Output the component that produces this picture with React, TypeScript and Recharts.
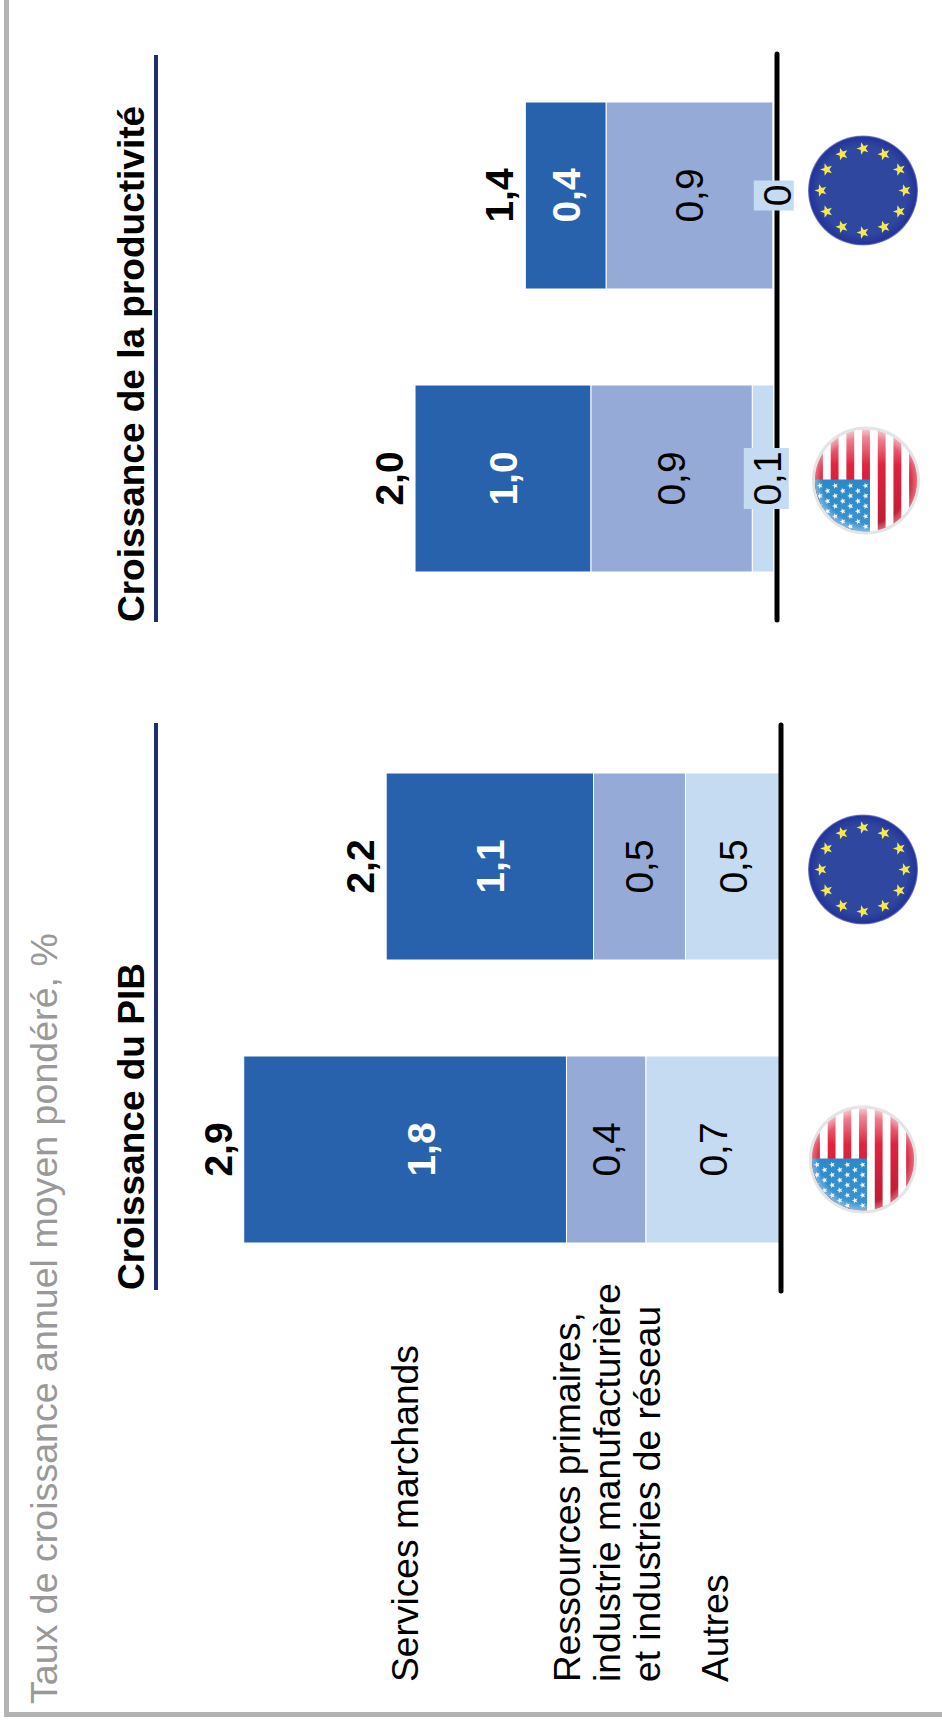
import React from "react";
import { BarChart, Bar, XAxis, YAxis, LabelList } from "recharts";

const FONT = '"Liberation Sans", Arial, sans-serif';

const regions = ["États-Unis", "UE"];
const gdpServices = [1.79, 1.15];
const gdpResources = [0.44, 0.51];
const gdpOther = [0.75, 0.53];
const gdpServiceLabels = ["1,8", "1,1"];
const gdpResourceLabels = ["0,4", "0,5"];
const gdpOtherLabels = ["0,7", "0,5"];
const gdpTotals = ["2,9", "2,2"];

const prodServices = [0.98, 0.45];
const prodResources = [0.9, 0.93];
const prodOther = [0.12, 0.005];
const prodServiceLabels = ["1,0", "0,4"];
const prodResourceLabels = ["0,9", "0,9"];
const prodOtherLabels = ["0,1", "0"];
const prodTotals = ["2,0", "1,4"];

const legendServices = ["Services marchands"];
const legendResources = ["Ressources primaires,", "industrie manufacturière", "et industries de réseau"];
const legendOther = ["Autres"];

const DARK = "#2862ac";
const MID = "#95aad6";
const LIGHT = "#c5dbf2";
const NAVY = "#1f2f6e";
const GREY = "#b3b3b3";

function makeRows(s: number[], r: number[], o: number[], sl: string[], rl: string[], ol: string[], t: string[]) {
  return regions.map((region, i) => ({
    region, services: s[i], resources: r[i], other: o[i],
    serviceLabel: sl[i], resourceLabel: rl[i], otherLabel: ol[i], total: t[i],
  }));
}
const gdpRows = makeRows(gdpServices, gdpResources, gdpOther, gdpServiceLabels, gdpResourceLabels, gdpOtherLabels, gdpTotals);
const prodRows = makeRows(prodServices, prodResources, prodOther, prodServiceLabels, prodResourceLabels, prodOtherLabels, prodTotals);

function starPoints(cx: number, cy: number, R: number) {
  const pts: string[] = [];
  for (let i = 0; i < 10; i++) {
    const a = -Math.PI / 2 + (i * Math.PI) / 5;
    const rr = i % 2 === 0 ? R : R * 0.42;
    pts.push(`${cx + rr * Math.cos(a)},${cy + rr * Math.sin(a)}`);
  }
  return pts.join(" ");
}

function UsFlag({ cx, cy, id }: { cx: number; cy: number; id: string }) {
  const r = 51;
  const sw = (2 * r) / 13;
  const stars: React.ReactNode[] = [];
  for (let row = 0; row < 7; row++) {
    const n = row % 2 === 0 ? 5 : 4;
    for (let c = 0; c < n; c++) {
      stars.push(
        <polygon key={`${row}-${c}`} fill="#fff" opacity={0.9}
          points={starPoints(cx - r + 5 + c * 10.2 + (row % 2 ? 5 : 0), cy - r + 5 + row * 7.6, 3.2)} />
      );
    }
  }
  return (
    <g>
      <circle cx={cx} cy={cy} r={r + 3} fill="#e4e4e4" />
      <clipPath id={id}><circle cx={cx} cy={cy} r={r} /></clipPath>
      <g clipPath={`url(#${id})`}>
        <rect x={cx - r} y={cy - r} width={2 * r} height={2 * r} fill="#fff" />
        {Array.from({ length: 7 }, (_, i) => (
          <rect key={i} x={cx - r} y={cy - r + 2 * i * sw} width={2 * r} height={sw} fill={`url(#${id}-red)`} />
        ))}
        <rect x={cx - r} y={cy - r} width={r + 1} height={r + 4} fill={`url(#${id}-blue)`} />
        {stars}
        <circle cx={cx} cy={cy} r={r} fill={`url(#${id}-shine)`} />
      </g>
      <defs>
        <linearGradient id={`${id}-red`} gradientUnits="userSpaceOnUse" x1={cx + r} x2={cx - r} y1={cy} y2={cy}>
          <stop offset="0" stopColor="#f2a4b2" />
          <stop offset="0.35" stopColor="#e0233f" />
          <stop offset="1" stopColor="#b81c34" />
        </linearGradient>
        <linearGradient id={`${id}-blue`} x1="0" x2="1" y1="0" y2="0">
          <stop offset="0" stopColor="#3f94cf" />
          <stop offset="1" stopColor="#2b88c8" />
        </linearGradient>
        <radialGradient id={`${id}-shine`} cx="0.5" cy="0.5" r="0.5">
          <stop offset="0.85" stopColor="#fff" stopOpacity="0" />
          <stop offset="1" stopColor="#fff" stopOpacity="0.35" />
        </radialGradient>
      </defs>
    </g>
  );
}

function EuFlag({ cx, cy, id }: { cx: number; cy: number; id: string }) {
  const r = 55;
  return (
    <g>
      <defs>
        <radialGradient id={id} cx="0.5" cy="0.5" r="0.5">
          <stop offset="0.8" stopColor="#30479f" />
          <stop offset="0.97" stopColor="#24339a" />
          <stop offset="1" stopColor="#8a90c4" />
        </radialGradient>
      </defs>
      <circle cx={cx} cy={cy} r={r} fill={`url(#${id})`} />
      {Array.from({ length: 12 }, (_, i) => {
        const a = (i * Math.PI) / 6;
        return <polygon key={i} fill="#f3ea4f"
          points={starPoints(cx + 42 * Math.cos(a), cy + 42 * Math.sin(a), 6.5)} />;
      })}
    </g>
  );
}

function flagTick(prefix: string, flagYs: number[], offsets: number[]) {
  return (props: any) => {
    const { x, payload, index } = props;
    const cx = x + offsets[index];
    const cy = flagYs[index];
    return payload.value === regions[0]
      ? <UsFlag cx={cx} cy={cy} id={`${prefix}-us`} />
      : <EuFlag cx={cx} cy={cy} id={`${prefix}-eu`} />;
  };
}

const labelStyle = { fontFamily: FONT, fontSize: 39 } as const;

function boxedLabel(props: any) {
  const { x, width, y, height, value } = props;
  const cx = x + width / 2;
  const base = y + height;
  const wide = String(value).length > 1;
  const w = wide ? 61 : 30;
  const h = wide ? 45 : 40;
  const cy = base - (wide ? 7.5 : 0);
  const textY = base + (wide ? 7 : 17);
  return (
    <g>
      <rect x={cx - w / 2} y={cy - h / 2} width={w} height={h} fill={LIGHT} />
      <text x={cx} y={textY} textAnchor="middle" fill="#000" style={labelStyle}>{value}</text>
    </g>
  );
}

function serviceLabel(shifts: number[]) {
  return (props: any) => {
    const { x, width, y, height, value, index } = props;
    return (
      <text x={x + width / 2} y={y + height / 2 + 14 + shifts[index]} textAnchor="middle" fill="#fff"
        style={{ ...labelStyle, fontWeight: 700 }}>{value}</text>
    );
  };
}

function Panel({ rows, boxed, prefix, flagYs, offsets, shifts, domain }: any) {
  return (
    <BarChart width={600} height={780} data={rows}
      margin={{ top: 0, right: 17, bottom: 69, left: 17 }} barCategoryGap={48} style={{ fontFamily: FONT, overflow: "visible" }}>
      <XAxis dataKey="region" axisLine={{ stroke: "#000", strokeWidth: 5, strokeLinecap: "round" }}
        tickLine={false} interval={0} height={80} tick={flagTick(prefix, flagYs, offsets) as any} />
      <YAxis hide domain={domain} type="number" allowDataOverflow />
      <Bar dataKey="other" stackId="a" fill={LIGHT} stroke="#fff" strokeWidth={1} isAnimationActive={false}>
        {boxed
          ? <LabelList dataKey="otherLabel" content={boxedLabel} />
          : <LabelList dataKey="otherLabel" position="center" fill="#000" style={labelStyle} />}
      </Bar>
      <Bar dataKey="resources" stackId="a" fill={MID} stroke="#fff" strokeWidth={1} isAnimationActive={false}>
        <LabelList dataKey="resourceLabel" position="center" fill="#000" style={labelStyle} />
      </Bar>
      <Bar dataKey="services" stackId="a" fill={DARK} stroke="#fff" strokeWidth={1} isAnimationActive={false}>
        <LabelList dataKey="serviceLabel" content={serviceLabel(shifts)} />
        <LabelList dataKey="total" position="top" offset={12} fill="#000" style={{ ...labelStyle, fontWeight: 700 }} />
      </Bar>
    </BarChart>
  );
}

const abs = (left: number, top: number, extra: React.CSSProperties = {}): React.CSSProperties => ({
  position: "absolute", left, top, whiteSpace: "nowrap", ...extra,
});

function lineStyle(u: number, vCenter: number, extra: React.CSSProperties = {}) {
  return abs(u, vCenter - 20, { fontSize: 37.2, lineHeight: "40px", height: 40, ...extra });
}

export default function App() {
  return (
    <div style={{ position: "absolute", left: 0, top: 0, width: 942, height: 1726, overflow: "hidden", background: "#fff" }}>
      <div style={{
        position: "absolute", left: 0, top: 0, width: 1726, height: 942,
        transformOrigin: "0 0", transform: "translateY(1726px) rotate(-90deg)", fontFamily: FONT,
      }}>
        <div style={abs(9, 4, { width: 1717, height: 4.5, background: GREY })} />
        <div style={abs(9, 4, { width: 5, height: 938, background: GREY })} />

        <div style={lineStyle(22, 44, { color: "#999", fontSize: 37.6 })}>Taux de croissance annuel moyen pondéré, %</div>

        {legendServices.map((t) => <div key={t} style={lineStyle(44, 405)}>{t}</div>)}
        {legendResources.map((t, i) => <div key={t} style={lineStyle(44, 567 + i * 40)}>{t}</div>)}
        {legendOther.map((t) => <div key={t} style={lineStyle(44, 715)}>{t}</div>)}

        <div style={lineStyle(436, 132, { fontWeight: 700, fontSize: 37 })}>Croissance du PIB</div>
        <div style={abs(436, 154, { width: 567, height: 4, background: NAVY })} />
        <div style={lineStyle(1104, 132, { fontWeight: 700, fontSize: 37 })}>Croissance de la productivité</div>
        <div style={abs(1104, 154, { width: 567, height: 4, background: NAVY })} />

        <div style={abs(418, 150, { height: 780 })}>
          <Panel rows={gdpRows} prefix="gdp" flagYs={[713, 713]} offsets={[-10, -3]} shifts={[16, 0]} domain={[0, 3.5]} />
        </div>
        <div style={abs(1089, 146, { height: 780 })}>
          <Panel rows={prodRows} boxed prefix="prod" flagYs={[720, 717]} offsets={[-2, 5]} shifts={[0, 0]} domain={[-0.018, 3.5]} />
        </div>
      </div>
    </div>
  );
}
